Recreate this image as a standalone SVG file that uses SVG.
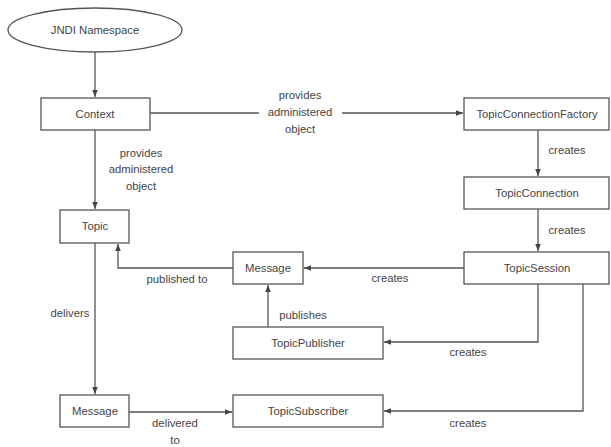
<svg xmlns="http://www.w3.org/2000/svg" width="611" height="447" viewBox="0 0 611 447">
<style>
.n{fill:#fff;stroke:#555;stroke-width:1.3}
.t{font-family:"Liberation Sans",Arial,sans-serif;font-size:11.3px;fill:#444;text-anchor:middle}
.c{fill:none;stroke:#555;stroke-width:1.3}
</style>
<defs>
<marker id="a" viewBox="0 0 10 10" refX="10" refY="5" markerWidth="7" markerHeight="7" orient="auto" markerUnits="userSpaceOnUse">
<path d="M0,1 L10,5 L0,9 Z" fill="#444"/>
</marker>
</defs>
<rect width="611" height="447" fill="#fff"/>
<g id="connectors">
<line class="c" x1="95" y1="52" x2="95" y2="97" marker-end="url(#a)"/>
<line class="c" x1="150" y1="113" x2="259" y2="113"/>
<line class="c" x1="342" y1="113" x2="463" y2="113" marker-end="url(#a)"/>
<line class="c" x1="95" y1="130" x2="95" y2="209" marker-end="url(#a)"/>
<line class="c" x1="538" y1="130" x2="538" y2="176" marker-end="url(#a)"/>
<line class="c" x1="538" y1="209" x2="538" y2="251" marker-end="url(#a)"/>
<line class="c" x1="464" y1="268" x2="304" y2="268" marker-end="url(#a)"/>
<polyline class="c" points="233,268 118,268 118,244" marker-end="url(#a)"/>
<line class="c" x1="268" y1="327" x2="268" y2="285" marker-end="url(#a)"/>
<polyline class="c" points="538,284 538,342 384,342" marker-end="url(#a)"/>
<polyline class="c" points="583,284 583,411 384,411" marker-end="url(#a)"/>
<line class="c" x1="95" y1="243" x2="95" y2="394" marker-end="url(#a)"/>
<line class="c" x1="129" y1="412" x2="232" y2="412" marker-end="url(#a)"/>
<text class="t" x="300" y="99">provides</text>
<text class="t" x="300" y="116">administered</text>
<text class="t" x="300" y="133">object</text>
<text class="t" x="141" y="157">provides</text>
<text class="t" x="141" y="173">administered</text>
<text class="t" x="141" y="190">object</text>
<text class="t" x="567" y="154">creates</text>
<text class="t" x="567" y="234">creates</text>
<text class="t" x="390" y="282">creates</text>
<text class="t" x="177" y="283">published to</text>
<text class="t" x="303" y="319">publishes</text>
<text class="t" x="468" y="356">creates</text>
<text class="t" x="70" y="317">delivers</text>
<text class="t" x="468" y="427">creates</text>
<text class="t" x="175" y="427">delivered</text>
<text class="t" x="175" y="444">to</text>
</g>
<g id="jndi"><ellipse class="n" cx="95" cy="30" rx="87" ry="22"/><text class="t" x="95" y="34">JNDI Namespace</text></g>
<g id="context"><rect class="n" x="41" y="98" width="109" height="32"/><text class="t" x="95" y="118">Context</text></g>
<g id="tcf"><rect class="n" x="464" y="98" width="145" height="32"/><text class="t" x="537" y="118">TopicConnectionFactory</text></g>
<g id="tconn"><rect class="n" x="464" y="177" width="145" height="32"/><text class="t" x="537" y="197">TopicConnection</text></g>
<g id="topic"><rect class="n" x="60" y="210" width="69" height="33"/><text class="t" x="95" y="230">Topic</text></g>
<g id="tsession"><rect class="n" x="464" y="252" width="145" height="32"/><text class="t" x="537" y="272">TopicSession</text></g>
<g id="message1"><rect class="n" x="233" y="252" width="70" height="32"/><text class="t" x="268" y="272">Message</text></g>
<g id="tpub"><rect class="n" x="233" y="327" width="150" height="32"/><text class="t" x="308" y="347">TopicPublisher</text></g>
<g id="message2"><rect class="n" x="60" y="395" width="69" height="32"/><text class="t" x="95" y="415">Message</text></g>
<g id="tsub"><rect class="n" x="233" y="395" width="150" height="32"/><text class="t" x="308" y="415">TopicSubscriber</text></g>
</svg>
